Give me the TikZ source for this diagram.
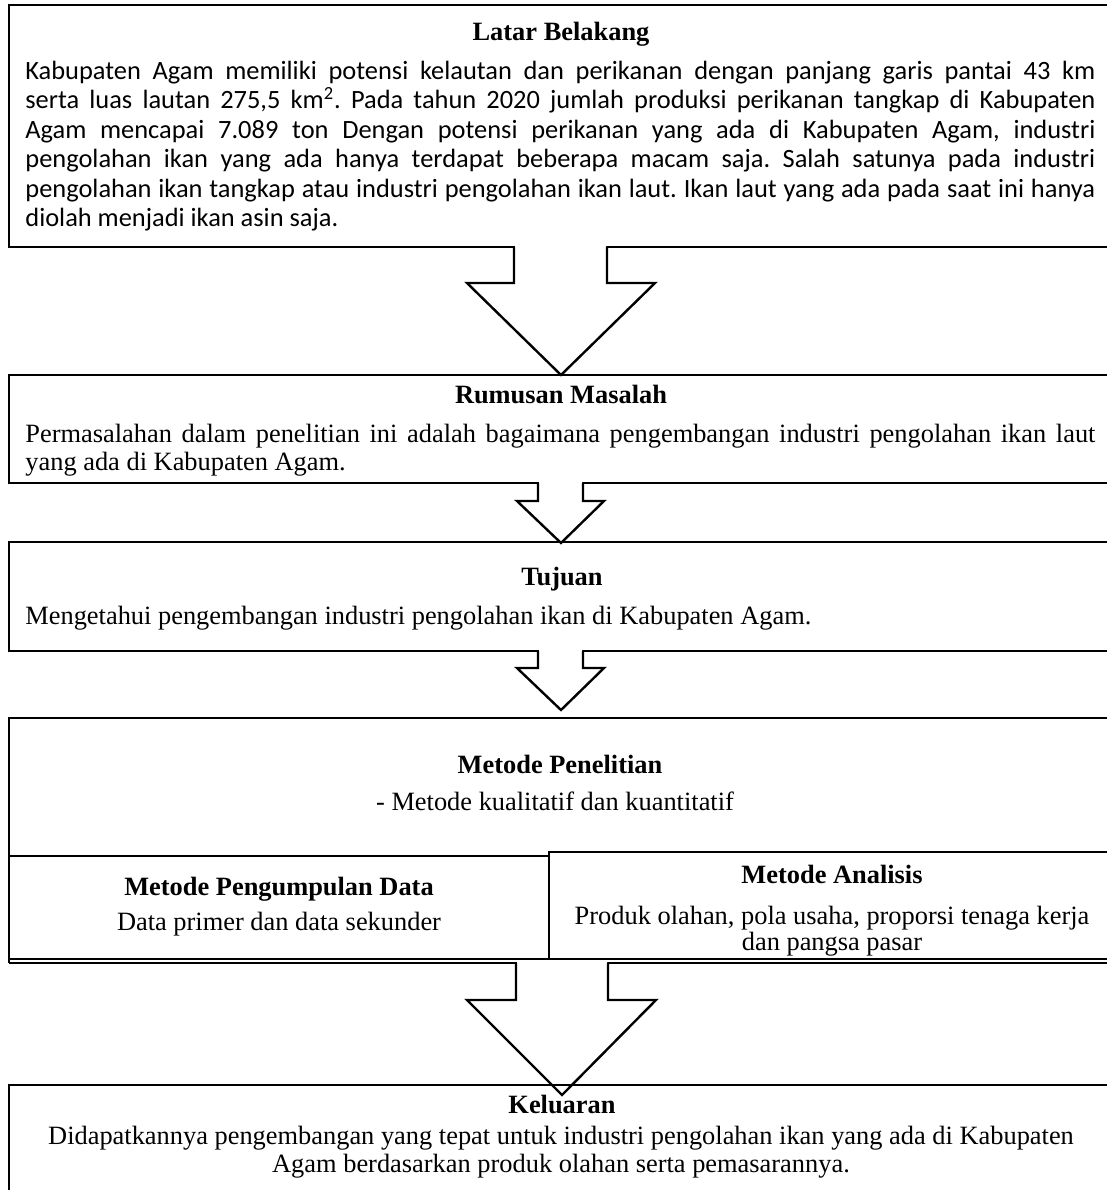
\documentclass[tikz,border=0pt]{standalone}
\usepackage{fontspec}
\setmainfont{Liberation Serif}
\newfontfamily\calfont{Carlito}
\frenchspacing
\begin{document}
\begin{tikzpicture}[x=0.5pt,y=-0.5pt,
  box/.style={line width=1.4pt},
  thinbox/.style={line width=1pt},
  arr/.style={line width=1.2pt, line join=miter},
  ttl/.style={font=\fontsize{13.2}{15}\selectfont\bfseries, inner sep=0, anchor=base},
  txt/.style={font=\fontsize{13.2}{15}\selectfont, inner sep=0, anchor=base},
  txtl/.style={font=\fontsize{13.2}{15}\selectfont, inner sep=0, anchor=base west},
  cal/.style={font=\calfont\fontsize{13.2}{15}\selectfont, inner sep=0, anchor=base west}]
\useasboundingbox (0,0) rectangle (1107,1190);
\clip (0,0) rectangle (1107,1190);

% boxes
\draw[box] (9,5) rectangle (1130,247);
\draw[box] (9,375) rectangle (1130,483);
\draw[box] (9,542) rectangle (1130,651);
\draw[box] (9,963) -- (9,718) -- (1130,718);
\draw[thinbox] (9,963) -- (1130,963);
\draw[box] (9,856) -- (549,856);
\draw[box] (549,959) -- (549,852) -- (1130,852);
\draw[thinbox] (9,959) -- (1130,959);

% arrows
\fill[white] (515,240) -- (515,283) -- (467,283) -- (561,375) -- (655,283) -- (606,283) -- (606,240) -- cycle;
\draw[arr] (514,247) -- (514,283) -- (467,283) -- (561,375) -- (655,283) -- (607,283) -- (607,247);

\fill[white] (539,478) -- (539,501) -- (517,501) -- (561,543) -- (604,501) -- (582,501) -- (582,478) -- cycle;
\draw[arr] (538,483) -- (538,501) -- (517,501) -- (561,543) -- (604,501) -- (583,501) -- (583,483);

\fill[white] (539,646) -- (539,668) -- (517,668) -- (561,710) -- (604,668) -- (582,668) -- (582,646) -- cycle;
\draw[arr] (538,651) -- (538,668) -- (517,668) -- (561,710) -- (604,668) -- (583,668) -- (583,651);

\fill[white] (517,961.5) -- (517,1000) -- (467,1000) -- (562,1095) -- (656,1000) -- (607,1000) -- (607,961.5) -- cycle;
\draw[arr] (516,963) -- (516,1000) -- (467,1000) -- (562,1095) -- (656,1000) -- (608,1000) -- (608,963);

\draw[box] (9,1200) -- (9,1085) -- (1130,1085);

% Latar Belakang
\node[ttl] (t1) at (561,40) {Latar Belakang};
\node[cal] (b1a) at (25,79) {\makebox[535pt][s]{Kabupaten Agam memiliki potensi kelautan dan perikanan dengan panjang garis pantai 43 km}};
\node[cal] (b1b) at (25,108.5) {\makebox[535pt][s]{serta luas lautan 275,5 km\textsuperscript{2}. Pada tahun 2020 jumlah produksi perikanan tangkap di Kabupaten}};
\node[cal] (b1c) at (25,138) {\makebox[535pt][s]{Agam mencapai 7.089 ton Dengan potensi perikanan yang ada di Kabupaten Agam, industri}};
\node[cal] (b1d) at (25,167.5) {\makebox[535pt][s]{pengolahan ikan yang ada hanya terdapat beberapa macam saja. Salah satunya pada industri}};
\node[cal] (b1e) at (25,197) {\makebox[535pt][s]{pengolahan ikan tangkap atau industri pengolahan ikan laut. Ikan laut yang ada pada saat ini hanya}};
\node[cal] (b1f) at (25,226.5) {diolah menjadi ikan asin saja.};

% Rumusan Masalah
\node[ttl] (t2) at (561,403) {Rumusan Masalah};
\node[txtl] (b2a) at (25,442) {\makebox[535pt][s]{Permasalahan dalam penelitian ini adalah bagaimana pengembangan industri pengolahan ikan laut}};
\node[txtl] (b2b) at (25,470) {yang ada di Kabupaten Agam.};

% Tujuan
\node[ttl] (t3) at (562,585) {Tujuan};
\node[txtl] (b3) at (25,624) {Mengetahui pengembangan industri pengolahan ikan di Kabupaten Agam.};

% Metode Penelitian
\node[ttl] (t4) at (560,773) {Metode Penelitian};
\node[txt] (b4) at (555,810) {- Metode kualitatif dan kuantitatif};
\node[ttl] (t5) at (279,895) {Metode Pengumpulan Data};
\node[txt] (b5) at (279,930) {Data primer dan data sekunder};
\node[ttl] (t6) at (832,883) {Metode Analisis};
\node[txt] (b6a) at (832,924) {Produk olahan, pola usaha, proporsi tenaga kerja};
\node[txt] (b6b) at (832,950) {dan pangsa pasar};

% Keluaran
\node[ttl] (t7) at (562,1113) {Keluaran};
\node[txt] (b7a) at (561,1144) {Didapatkannya pengembangan yang tepat untuk industri pengolahan ikan yang ada di Kabupaten};
\node[txt] (b7b) at (561,1172) {Agam berdasarkan produk olahan serta pemasarannya.};
\end{tikzpicture}
\end{document}
